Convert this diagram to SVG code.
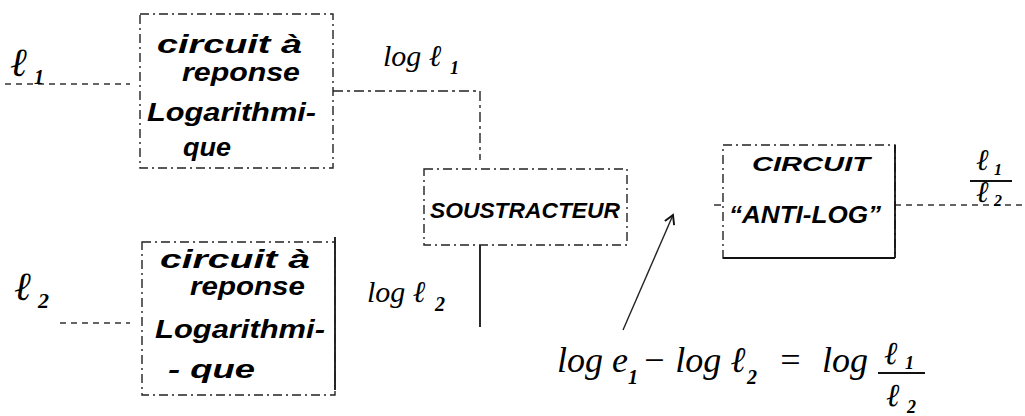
<svg xmlns="http://www.w3.org/2000/svg" width="1025" height="416" viewBox="0 0 1025 416">
<style>
  .box { fill: none; stroke: #222; stroke-width: 1.4; stroke-dasharray: 9 4 2 4; }
  .solid { fill: none; stroke: #111; stroke-width: 1.8; }
  .conn { fill: none; stroke: #222; stroke-width: 1.4; }
  .dash { fill: none; stroke: #333; stroke-width: 1.3; stroke-dasharray: 6 5; }
  .hand { font-family: "Liberation Sans", "DejaVu Sans", sans-serif; font-style: italic; font-weight: bold; fill: #000; }
  .math { font-family: "Liberation Serif", "DejaVu Serif", serif; font-style: italic; fill: #000; }
  .sub { font-family: "Liberation Serif", "DejaVu Serif", serif; font-style: italic; font-weight: bold; fill: #000; }
</style>
<defs>
  <marker id="arr" viewBox="0 0 10 10" refX="8" refY="5" markerWidth="9" markerHeight="9" orient="auto">
    <path d="M1,1 L8,5 L1,9" fill="none" stroke="#111" stroke-width="1.5"/>
  </marker>
</defs>

<!-- connectors -->
<g id="connectors">
  <line class="dash" x1="5" y1="84" x2="130" y2="84"/>
  <line class="dash" x1="60" y1="323" x2="130" y2="323" stroke-dasharray="3 50"/>
  <polyline class="conn" points="333,91 480,91 480,160" stroke-dasharray="10 4 3 4"/>
  <line class="solid" x1="480" y1="245" x2="480" y2="327"/>
  <line class="solid" x1="335" y1="237" x2="335" y2="390"/>
  <line class="dash" x1="895" y1="205" x2="1022" y2="205"/>
  <line class="conn" x1="714" y1="205" x2="721" y2="205"/>
  <line class="conn" x1="623" y1="330" x2="673" y2="215" stroke-width="1.1" marker-end="url(#arr)"/>
</g>

<!-- input labels -->
<g id="input-e1">
  <text class="math" x="10" y="76" font-size="40">ℓ</text>
  <text class="sub" x="34" y="84" font-size="20">1</text>
</g>
<g id="input-e2">
  <text class="math" x="14" y="300" font-size="40">ℓ</text>
  <text class="sub" x="38" y="308" font-size="22">2</text>
</g>

<!-- top log circuit -->
<g id="log-circuit-1">
  <rect class="box" x="140" y="14" width="193" height="154"/>
  <text class="hand" x="157" y="53" font-size="26" textLength="145" lengthAdjust="spacingAndGlyphs">circuit à</text>
  <text class="hand" x="182" y="81" font-size="26" textLength="118" lengthAdjust="spacingAndGlyphs">reponse</text>
  <text class="hand" x="147" y="121" font-size="26" textLength="169" lengthAdjust="spacingAndGlyphs">Logarithmi-</text>
  <text class="hand" x="183" y="156" font-size="26" textLength="48" lengthAdjust="spacingAndGlyphs">que</text>
</g>

<!-- bottom log circuit -->
<g id="log-circuit-2">
  <rect class="box" x="142" y="242" width="193" height="153"/>
  <text class="hand" x="160" y="268" font-size="26" textLength="150" lengthAdjust="spacingAndGlyphs">circuit à</text>
  <text class="hand" x="190" y="295" font-size="26" textLength="115" lengthAdjust="spacingAndGlyphs">reponse</text>
  <text class="hand" x="155" y="338" font-size="26" textLength="170" lengthAdjust="spacingAndGlyphs">Logarithmi-</text>
  <text class="hand" x="168" y="378" font-size="26" textLength="87" lengthAdjust="spacingAndGlyphs">- que</text>
</g>

<!-- labels on connectors -->
<g id="label-log-e1">
  <text class="math" x="383" y="66" font-size="30">log ℓ</text>
  <text class="sub" x="450" y="74" font-size="18">1</text>
</g>
<g id="label-log-e2">
  <text class="math" x="367" y="302" font-size="30">log ℓ</text>
  <text class="sub" x="435" y="311" font-size="20">2</text>
</g>

<!-- subtractor -->
<g id="soustracteur">
  <rect class="box" x="424" y="169" width="203" height="76"/>
  <text class="hand" x="430" y="218" font-size="22" textLength="190" lengthAdjust="spacingAndGlyphs">SOUSTRACTEUR</text>
</g>

<!-- anti-log circuit -->
<g id="anti-log">
  <rect class="box" x="723" y="145" width="172" height="113"/>
  <line class="solid" x1="895" y1="145" x2="895" y2="258"/>
  <line class="solid" x1="723" y1="258" x2="895" y2="258"/>
  <text class="hand" x="752" y="171" font-size="21" textLength="118" lengthAdjust="spacingAndGlyphs">CIRCUIT</text>
  <text class="hand" x="729" y="223" font-size="24" textLength="152" lengthAdjust="spacingAndGlyphs">“ANTI-LOG”</text>
</g>

<!-- output -->
<g id="output">
  <text class="math" x="976" y="170" font-size="30">ℓ</text>
  <text class="sub" x="994" y="175" font-size="16">1</text>
  <line class="solid" x1="970" y1="181" x2="1012" y2="181"/>
  <text class="math" x="976" y="202" font-size="30">ℓ</text>
  <text class="sub" x="994" y="206" font-size="16">2</text>
</g>

<!-- equation -->
<g id="equation">
  <text class="math" x="557" y="372" font-size="36">log e</text>
  <text class="sub" x="628" y="384" font-size="20">1</text>
  <text class="math" x="642" y="372" font-size="36">− log ℓ</text>
  <text class="sub" x="747" y="384" font-size="20">2</text>
  <text class="math" x="778" y="372" font-size="36">=</text>
  <text class="math" x="822" y="372" font-size="36">log</text>
  <text class="math" x="884" y="364" font-size="32">ℓ</text>
  <text class="sub" x="905" y="369" font-size="18">1</text>
  <line class="solid" x1="878" y1="373" x2="925" y2="373"/>
  <text class="math" x="886" y="406" font-size="32">ℓ</text>
  <text class="sub" x="907" y="413" font-size="18">2</text>
</g>
</svg>
